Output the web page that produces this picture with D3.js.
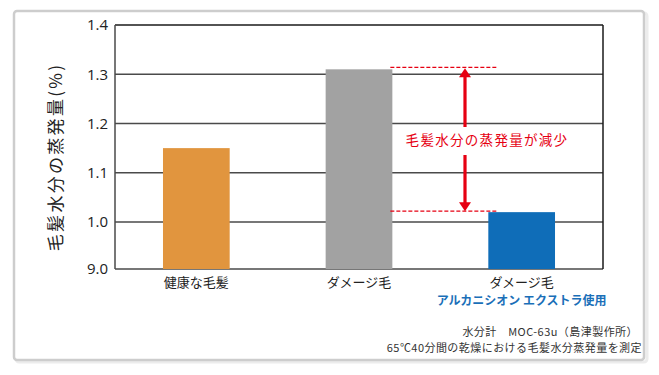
<!DOCTYPE html>
<meta charset="utf-8">
<style>
  body { margin: 0; background: #fff; }
  svg { display: block; font-family: "Noto Sans CJK JP", "Noto Sans", sans-serif; }
  .grid line { stroke: #4a4a4a; stroke-width: 1.5; }
  .ytick text { font-family: "Open Sans", "Noto Sans", sans-serif; font-size: 15px; fill: #222; }
  .xlab { font-size: 13px; fill: #222; }
  .note { font-size: 11px; letter-spacing: 0.45px; fill: #333; }
</style>
<body>
</body>
<script src="https://cdn.jsdelivr.net/npm/d3@7"></script>
<script>
  const categories = ['健康な毛髪', 'ダメージ毛', 'ダメージ毛'];
  const values = [1.15, 1.31, 1.02];
  const barColors = ['#e1953e', '#a2a2a2', '#0f6db8'];
  const subLabels = ['', '', 'アルカニシオン エクストラ使用'];
  const tickValues = [0.9, 1.0, 1.1, 1.2, 1.3, 1.4];
  const tickLabels = ['9.0', '1.0', '1.1', '1.2', '1.3', '1.4'];
  const yTitle = '毛髪水分の蒸発量(%)';
  const annotation = '毛髪水分の蒸発量が減少';
  const notes = ['水分計　MOC-63u（島津製作所）', '65℃40分間の乾燥における毛髪水分蒸発量を測定'];

  const W = 659, H = 375;
  const l = 115, r = 603, t = 25, b = 269;

  const svg = d3.select('body').append('svg')
    .attr('width', W).attr('height', H);

  // frame with a soft shadow
  svg.append('rect')
    .attr('x', 16).attr('y', 13).attr('width', 631).attr('height', 349)
    .attr('rx', 3).attr('fill', 'none').attr('stroke', '#ececec').attr('stroke-width', 3);
  svg.append('rect')
    .attr('x', 14).attr('y', 11).attr('width', 630).attr('height', 349)
    .attr('rx', 3).attr('fill', '#fff').attr('stroke', '#cdcdcd').attr('stroke-width', 2.5);

  // the first tick is labelled 9.0 and sits a little closer, so the scale has a knee at 1.0
  const y = d3.scaleLinear().domain([0.9, 1.0, 1.4]).range([b, 222, t]);
  const x = d3.scaleBand().domain(d3.range(categories.length))
    .range([l, r]).paddingInner(0.59).paddingOuter(0.295);

  const grid = svg.append('g').attr('class', 'grid');
  grid.selectAll('line')
    .data(tickValues)
    .join('line')
    .attr('x1', l).attr('x2', r)
    .attr('y1', d => y(d)).attr('y2', d => y(d))
    .style('stroke', d => d === 1.4 ? '#1a1a1a' : null);
  grid.append('line').attr('x1', l).attr('x2', l).attr('y1', t).attr('y2', b);
  grid.append('line').attr('x1', r).attr('x2', r).attr('y1', t).attr('y2', b)
    .style('stroke', '#1a1a1a');

  svg.append('g').attr('class', 'ytick')
    .selectAll('text')
    .data(tickValues)
    .join('text')
    .attr('x', 108).attr('y', d => y(d))
    .attr('dy', '0.35em')
    .attr('text-anchor', 'end')
    .text((d, i) => tickLabels[i]);

  // bars
  svg.append('g').selectAll('rect')
    .data(values)
    .join('rect')
    .attr('x', (d, i) => x(i))
    .attr('width', x.bandwidth())
    .attr('y', d => y(d))
    .attr('height', d => b - y(d))
    .attr('fill', (d, i) => barColors[i]);

  svg.append('g').selectAll('text')
    .data(categories)
    .join('text')
    .attr('class', 'xlab')
    .attr('x', (d, i) => x(i) + x.bandwidth() / 2)
    .attr('y', 287)
    .attr('text-anchor', 'middle')
    .text(d => d);

  svg.append('g').selectAll('text')
    .data(subLabels)
    .join('text')
    .attr('x', (d, i) => x(i) + x.bandwidth() / 2)
    .attr('y', 305)
    .attr('text-anchor', 'middle')
    .attr('font-size', 12)
    .attr('font-weight', 'bold')
    .attr('fill', '#1a6fb8')
    .text(d => d);

  // y title
  svg.append('text')
    .attr('transform', 'translate(62,157) rotate(-90)')
    .attr('text-anchor', 'middle')
    .attr('font-size', 17)
    .attr('letter-spacing', 2.3)
    .attr('fill', '#222')
    .text(yTitle);

  // annotation: dashed guides and double arrow
  const red = '#e60012';
  const ax = 465, gx1 = x(1) + x.bandwidth() - 2, gx2 = x(2) + 8;
  const yTop = y(values[1]) - 2, yBot = y(values[2]) - 1;
  const ann = svg.append('g');
  [yTop, yBot].forEach(v => {
    ann.append('line')
      .attr('x1', gx1).attr('x2', gx2).attr('y1', v).attr('y2', v)
      .attr('stroke', red).attr('stroke-width', 1.1).attr('stroke-dasharray', '4,2');
  });
  ann.append('line').attr('x1', ax).attr('x2', ax).attr('y1', yTop + 8).attr('y2', 127)
    .attr('stroke', red).attr('stroke-width', 3.2);
  ann.append('line').attr('x1', ax).attr('x2', ax).attr('y1', 155).attr('y2', yBot - 8)
    .attr('stroke', red).attr('stroke-width', 3.2);
  ann.append('path')
    .attr('d', `M${ax},${yTop + 1}L${ax - 6},${yTop + 10}L${ax + 6},${yTop + 10}Z`)
    .attr('fill', red);
  ann.append('path')
    .attr('d', `M${ax},${yBot}L${ax - 6},${yBot - 9}L${ax + 6},${yBot - 9}Z`)
    .attr('fill', red);
  ann.append('text')
    .attr('x', 487).attr('y', 145)
    .attr('text-anchor', 'middle')
    .attr('font-size', 13.5)
    .attr('letter-spacing', 1.3)
    .attr('fill', red)
    .text(annotation);

  svg.append('g').selectAll('text')
    .data(notes)
    .join('text')
    .attr('class', 'note')
    .attr('x', (d, i) => i === 0 ? 638 : 642)
    .attr('y', (d, i) => 336 + i * 16)
    .attr('text-anchor', 'end')
    .text(d => d);
</script>
